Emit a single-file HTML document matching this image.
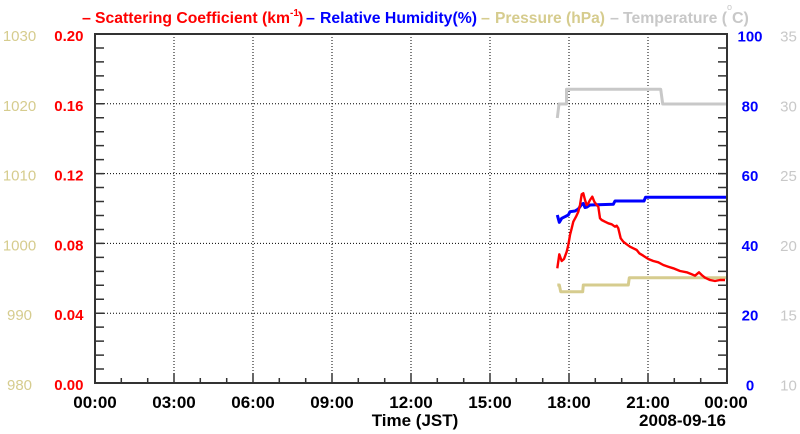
<!DOCTYPE html>
<html><head><meta charset="utf-8"><style>
html,body{margin:0;padding:0;background:#fff;}
svg{display:block;}
text{font-family:"Liberation Sans",Arial,sans-serif;}
</style></head><body>
<svg width="800" height="434" viewBox="0 0 800 434" xmlns="http://www.w3.org/2000/svg">
<rect width="800" height="434" fill="#fff"/>
<!-- Title -->
<g font-weight="bold" font-size="16">
<text x="82" y="23" fill="#ff0000">–</text>
<text x="95" y="23" fill="#ff0000" textLength="195" lengthAdjust="spacingAndGlyphs">Scattering Coefficient (km</text>
<text x="290" y="16" fill="#ff0000" font-size="10">-1</text>
<text x="298" y="23" fill="#ff0000">)</text>
<text x="306" y="23" fill="#0000ff">–</text>
<text x="320" y="23" fill="#0000ff" textLength="157" lengthAdjust="spacingAndGlyphs">Relative Humidity(%)</text>
<text x="481" y="23" fill="#d6cc8e">–</text>
<text x="495" y="23" fill="#d6cc8e" textLength="110" lengthAdjust="spacingAndGlyphs">Pressure (hPa)</text>
<text x="610" y="23" fill="#c8c8c8">–</text>
<text x="623" y="23" fill="#c8c8c8" textLength="104" lengthAdjust="spacingAndGlyphs">Temperature (</text>
<text x="727" y="10" fill="#c8c8c8" font-size="9" font-weight="normal">o</text>
<text x="732" y="23" fill="#c8c8c8">C)</text>
</g>
<!-- Gridlines -->
<g stroke="#000" stroke-width="1" stroke-dasharray="1 2">
<line x1="174" y1="34" x2="174" y2="383"/>
<line x1="253" y1="34" x2="253" y2="383"/>
<line x1="332" y1="34" x2="332" y2="383"/>
<line x1="411" y1="34" x2="411" y2="383"/>
<line x1="490" y1="34" x2="490" y2="383"/>
<line x1="569" y1="34" x2="569" y2="383"/>
<line x1="648" y1="34" x2="648" y2="383"/>
<line x1="95" y1="103.8" x2="727" y2="103.8"/>
<line x1="95" y1="173.6" x2="727" y2="173.6"/>
<line x1="95" y1="243.4" x2="727" y2="243.4"/>
<line x1="95" y1="313.2" x2="727" y2="313.2"/>
</g>
<!-- Ticks -->
<g stroke="#333" stroke-width="1.5">
<path d="M95 47.96h9M95 61.92h9M95 75.88h9M95 89.84h9M95 103.8h9M95 117.76h9M95 131.72h9M95 145.68h9M95 159.64h9M95 173.6h9M95 187.56h9M95 201.52h9M95 215.48h9M95 229.44h9M95 243.4h9M95 257.36h9M95 271.32h9M95 285.28h9M95 299.24h9M95 313.2h9M95 327.16h9M95 341.12h9M95 355.08h9M95 369.04h9"/>
<path d="M727 47.96h-9M727 61.92h-9M727 75.88h-9M727 89.84h-9M727 103.8h-9M727 117.76h-9M727 131.72h-9M727 145.68h-9M727 159.64h-9M727 173.6h-9M727 187.56h-9M727 201.52h-9M727 215.48h-9M727 229.44h-9M727 243.4h-9M727 257.36h-9M727 271.32h-9M727 285.28h-9M727 299.24h-9M727 313.2h-9M727 327.16h-9M727 341.12h-9M727 355.08h-9M727 369.04h-9"/>
<path d="M121.3 383v-5M147.7 383v-5M174 383v-10M200.3 383v-5M226.7 383v-5M253 383v-10M279.3 383v-5M305.7 383v-5M332 383v-10M358.3 383v-5M384.7 383v-5M411 383v-10M437.3 383v-5M463.7 383v-5M490 383v-10M516.3 383v-5M542.7 383v-5M569 383v-10M595.3 383v-5M621.7 383v-5M648 383v-10M674.3 383v-5M700.7 383v-5"/>
</g>
<!-- Data -->
<g fill="none" stroke-linejoin="round">
<polyline stroke="#c8c8c8" stroke-width="3" points="557.3,118 559,104 566.5,104 566.5,89.3 660.7,89.3 662.7,104 727,104"/>
<polyline stroke="#d6cc8e" stroke-width="3" points="557.3,285 559.3,285 560.7,291.7 582.7,291.7 583.3,285 628.3,285 629.3,277.7 727,277.7"/>
<polyline stroke="#0000ff" stroke-width="3" points="557.3,215 559.3,222.3 561.7,218.3 565,216.7 568.3,215 570,211.7 575,211 578.3,209 580,206.7 581.7,204.3 583.3,203.5 585,207.5 587,207 590,205 613.3,204.3 615,201 644,201 645.5,197.3 727,197.3"/>
<polyline stroke="#ff0000" stroke-width="2.4" points="557.3,268.3 559.3,254.3 561.7,261 564,259 566.7,251.7 568.3,245 570,235 571.7,228.3 573.3,221.7 576,216.7 578.3,211.7 580,205 581.7,194.3 583.3,193.3 585,200 586.7,205 588.3,203.3 590,200 592.3,196.7 594.3,201.7 596.7,205 598.3,206.7 600,218.3 601.7,220 605,221.7 608.3,223.3 611.7,224.3 615,226.7 616.7,225.7 618.3,228.3 620.7,238.3 623.3,241.7 626.7,244.3 630,246.7 633.3,248.3 636.7,250 639.3,253.3 643.3,255.7 648.3,259 653.3,261 658.3,262.3 663.3,265 668.3,266.7 673.3,268.3 680,271 686.7,272.3 691.7,274.3 695,275.7 699,272.3 701.7,275 705,277.7 710,280 715,281 720,280 725,280"/>
</g>
<!-- Frame -->
<rect x="95" y="34" width="632" height="349" fill="none" stroke="#333" stroke-width="2"/>
<!-- Left labels -->
<g font-size="15" fill="#d6cc8e" text-anchor="middle">
<text x="19.5" y="41">1030</text>
<text x="19.5" y="110.8">1020</text>
<text x="19.5" y="180.6">1010</text>
<text x="19.5" y="250.4">1000</text>
<text x="19.5" y="320.2">990</text>
<text x="19.5" y="390">980</text>
</g>
<g font-size="15" font-weight="bold" fill="#ff0000" text-anchor="end">
<text x="83.5" y="41">0.20</text>
<text x="83.5" y="110.8">0.16</text>
<text x="83.5" y="180.6">0.12</text>
<text x="83.5" y="250.4">0.08</text>
<text x="83.5" y="320.2">0.04</text>
<text x="83.5" y="390">0.00</text>
</g>
<!-- Right labels -->
<g font-size="15" font-weight="bold" fill="#0000ff" text-anchor="middle">
<text x="750" y="41.5">100</text>
<text x="750" y="111.3">80</text>
<text x="750" y="181.1">60</text>
<text x="750" y="250.9">40</text>
<text x="750" y="320.7">20</text>
<text x="750" y="390.5">0</text>
</g>
<g font-size="15" fill="#c8c8c8" text-anchor="middle">
<text x="788.5" y="41.5">35</text>
<text x="788.5" y="111.3">30</text>
<text x="788.5" y="181.1">25</text>
<text x="788.5" y="250.9">20</text>
<text x="788.5" y="320.7">15</text>
<text x="788.5" y="390.5">10</text>
</g>
<!-- X labels -->
<g font-size="17" font-weight="bold" fill="#000" text-anchor="middle">
<text x="95" y="408">00:00</text>
<text x="174" y="408">03:00</text>
<text x="253" y="408">06:00</text>
<text x="332" y="408">09:00</text>
<text x="411" y="408">12:00</text>
<text x="490" y="408">15:00</text>
<text x="569" y="408">18:00</text>
<text x="648" y="408">21:00</text>
<text x="726" y="408">00:00</text>
<text x="415" y="426">Time (JST)</text>
<text x="726" y="426" text-anchor="end">2008-09-16</text>
</g>
</svg>
</body></html>
